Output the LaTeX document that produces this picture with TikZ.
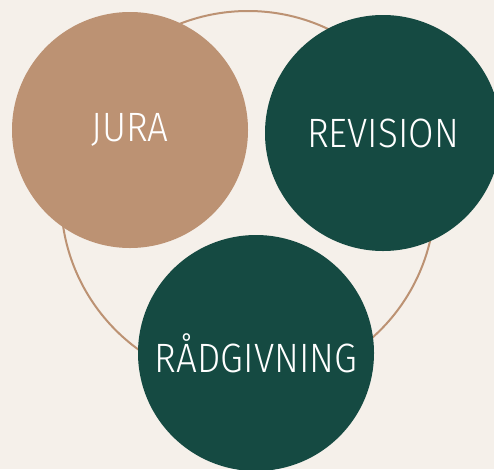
\documentclass[tikz,border=0pt]{standalone}
\usepackage{fontspec}
\newfontfamily\circlefont[FakeStretch=0.9]{Fira Sans Light}
\usetikzlibrary{positioning}
\definecolor{paper}{RGB}{245,240,234}
\definecolor{sand}{RGB}{188,146,115}
\definecolor{pine}{RGB}{21,74,66}
\tikzset{
  area/.style={circle,fill=#1,text=white,minimum size=236pt,inner sep=0pt,
    font=\circlefont\fontsize{41}{44}\selectfont},
  area/.default=pine,
  ring/.style={circle,draw=sand,line width=2pt,minimum size=374pt,inner sep=0pt},
}
\begin{document}
\begin{tikzpicture}[x=1pt,y=-1pt]
  \fill[paper] (0,0) rectangle (494,469);
  \useasboundingbox (0,0) rectangle (494,469);
  \clip (0,0) rectangle (494,469);
  \node[ring] (ring) at (248,198) {};
  \node[area=sand] (jura) at (130,130) {JURA};
  \node[area] (revision) at (383,133) {REVISION};
  \node[area] (raadgivning) at (256,353) {RÅDGIVNING};
\end{tikzpicture}
\end{document}
